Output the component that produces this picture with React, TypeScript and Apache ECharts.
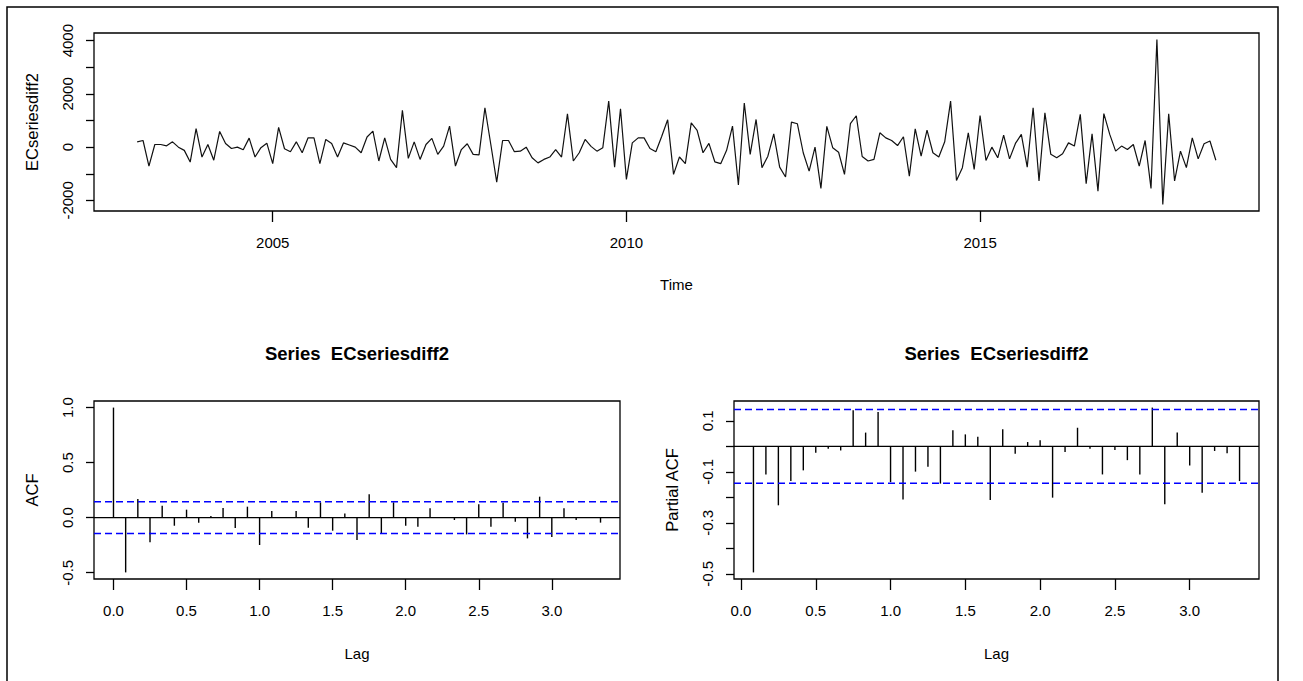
import { useEffect, useRef } from "react";
import * as echarts from "echarts";

// Monthly values of the twice-differenced series; the first observation is February 2003.
const FIRST_YEAR = 2003;
const FIRST_MONTH = 2;
const PERIOD = 12;

const values2003 = [200, 250, -710, 100, 100, 50, 200, 0, -120, -560, 700];
const values2004 = [-370, 100, -490, 590, 140, -50, 0, -100, 340, -370, -20, 150];
const values2005 = [-620, 740, -60, -170, 200, -210, 350, 350, -620, 290, 140, -370];
const values2006 = [160, 80, 0, -210, 380, 600, -520, 350, -460, -770, 1380, -420];
const values2007 = [200, -460, 100, 330, -270, 40, 790, -710, -90, 130, -270, -290];
const values2008 = [1480, 100, -1310, 250, 250, -170, -150, 0, -400, -590, -460, -370];
const values2009 = [-90, -370, 1250, -520, -210, 290, 30, -150, -20, 1730, -750, 1440];
const values2010 = [-1210, 160, 350, 350, -50, -170, 410, 1030, -1020, -370, -620, 910];
const values2011 = [630, -210, 140, -550, -620, -120, 790, -1420, 1660, -270, 1040, -770];
const values2012 = [-340, 500, -750, -1120, 940, 880, -210, -900, 0, -1550, 780, -20];
const values2013 = [-190, -1020, 880, 1180, -350, -520, -460, 540, 350, 250, 60, 390];
const values2014 = [-1090, 690, -340, 640, -210, -370, 200, 1730, -1250, -770, 540, -840];
const values2015 = [1190, -500, 0, -400, 450, -440, 140, 480, -750, 1480, -1270, 1290];
const values2016 = [-270, -400, -250, 160, 40, 1230, -1370, 500, -1650, 1260, 480, -150];
const values2017 = [40, -90, 100, -710, 250, -1550, 4040, -2150, 1250, -1270, -150, -770];
const values2018 = [350, -440, 130, 230, -490];

const yearlyValues = [
  values2003, values2004, values2005, values2006, values2007, values2008,
  values2009, values2010, values2011, values2012, values2013, values2014,
  values2015, values2016, values2017, values2018,
];

// Sample autocorrelations, lags 0..40 months
const acfValues = [
  1.0, -0.497, 0.17, -0.224, 0.109, -0.073, 0.073, -0.045, 0.015, 0.088,
  -0.094, 0.1, -0.248, 0.061, 0.004, 0.061, -0.091, 0.139, -0.118, 0.039,
  -0.203, 0.212, -0.148, 0.139, -0.073, -0.082, 0.085, 0.004, -0.021, -0.152,
  0.121, -0.082, 0.136, -0.036, -0.188, 0.191, -0.176, 0.085, -0.021, 0.003,
  -0.045,
];

// Sample partial autocorrelations, lags 1..40 months
const pacfValues = [
  -0.494, -0.11, -0.231, -0.136, -0.094, -0.025, -0.009, -0.016, 0.142, 0.054,
  0.135, -0.14, -0.208, -0.099, -0.08, -0.146, 0.063, 0.047, 0.038, -0.21,
  0.067, -0.029, 0.017, 0.024, -0.201, -0.022, 0.073, -0.009, -0.11, -0.014,
  -0.054, -0.11, 0.152, -0.227, 0.054, -0.075, -0.182, -0.018, -0.027, -0.136,
];

const timeTicks = [2005, 2010, 2015];
const levelTicks = [-2000, -1000, 0, 1000, 2000, 3000, 4000];
const levelLabels = [-2000, 0, 2000, 4000];
const lagTicks = [0, 0.5, 1, 1.5, 2, 2.5, 3];
const acfTicks = [-0.5, 0, 0.5, 1];
const pacfTicks = [-0.5, -0.4, -0.3, -0.2, -0.1, 0, 0.1];
const pacfLabels = [-0.5, -0.3, -0.1, 0.1];

const SERIES_NAME = "ECseriesdiff2";
const PANEL_TITLE = "Series  " + SERIES_NAME;

const FONT = "'Liberation Sans', Arial, sans-serif";
const BLACK = "#000";
const CI_BLUE = "#0000ff";

// Extend a range by 4% on each side, like R's default axis style.
function padded(lo: number, hi: number): [number, number] {
  const d = (hi - lo) * 0.04;
  return [lo - d, hi + d];
}

function buildOption() {
  const observations = yearlyValues.flat();
  const n = observations.length;
  const timePoints = observations.map((v, i) => [
    FIRST_YEAR + (FIRST_MONTH - 1 + i) / PERIOD,
    v,
  ]);
  const ciBound = 1.96 / Math.sqrt(n);

  const [tMin, tMax] = padded(timePoints[0][0], timePoints[n - 1][0]);
  const [vMin, vMax] = padded(Math.min(...observations), Math.max(...observations));

  const acfPoints = acfValues.map((v, k) => [k / PERIOD, v]);
  const pacfPoints = pacfValues.map((v, k) => [(k + 1) / PERIOD, v]);

  const [acfXMin, acfXMax] = padded(acfPoints[0][0], acfPoints[acfPoints.length - 1][0]);
  const [acfYMin, acfYMax] = padded(
    Math.min(...acfValues, -ciBound),
    Math.max(...acfValues, ciBound)
  );
  const [pacfXMin, pacfXMax] = padded(pacfPoints[0][0], pacfPoints[pacfPoints.length - 1][0]);
  const [pacfYMin, pacfYMax] = padded(
    Math.min(...pacfValues, -ciBound),
    Math.max(...pacfValues, ciBound)
  );

  const tickLine = { color: BLACK, width: 1.3 };
  const labelText = { fontFamily: FONT, fontSize: 15, color: BLACK };

  const xAxis = (
    gridIndex: number,
    min: number,
    max: number,
    ticks: number[],
    fmt: (v: number) => string,
    name: string,
    nameGap: number
  ) => ({
    type: "value",
    gridIndex,
    min,
    max,
    name,
    nameLocation: "middle",
    nameGap,
    nameTextStyle: { fontFamily: FONT, fontSize: 15, color: BLACK },
    axisLine: { show: false, onZero: false },
    splitLine: { show: false },
    axisTick: { show: true, customValues: ticks, length: 11, lineStyle: tickLine },
    axisLabel: { customValues: ticks, formatter: fmt, margin: 24, ...labelText },
  });

  const yAxis = (
    gridIndex: number,
    min: number,
    max: number,
    ticks: number[],
    labels: number[],
    fmt: (v: number) => string,
    name: string
  ) => ({
    type: "value",
    gridIndex,
    min,
    max,
    name,
    nameLocation: "middle",
    nameGap: 54,
    nameRotate: 90,
    nameTextStyle: { fontFamily: FONT, fontSize: 16.5, color: BLACK },
    axisLine: { show: false, onZero: false },
    splitLine: { show: false },
    axisTick: { show: true, customValues: ticks, length: 8, lineStyle: tickLine },
    axisLabel: { customValues: labels, formatter: fmt, rotate: 90, margin: 19, ...labelText },
  });

  const oneDecimal = (v: number) => v.toFixed(1);
  const whole = (v: number) => String(Math.round(v));

  const spikes = (axisIndex: number, points: number[][]) => ({
    type: "custom",
    xAxisIndex: axisIndex,
    yAxisIndex: axisIndex,
    data: points,
    encode: { x: 0, y: 1 },
    z: 2,
    renderItem: (_params: any, api: any) => {
      const x = api.value(0);
      const y = api.value(1);
      const base = api.coord([x, 0]);
      const tip = api.coord([x, y]);
      return {
        type: "line",
        shape: { x1: base[0], y1: base[1], x2: tip[0], y2: tip[1] },
        style: { stroke: BLACK, lineWidth: 1.4 },
      };
    },
  });

  const hline = (
    axisIndex: number,
    x0: number,
    x1: number,
    y: number,
    color: string,
    dashed: boolean,
    z: number
  ) => ({
    type: "line",
    xAxisIndex: axisIndex,
    yAxisIndex: axisIndex,
    data: [
      [x0, y],
      [x1, y],
    ],
    symbol: "none",
    silent: true,
    z,
    lineStyle: { color, width: dashed ? 1.5 : 1.3, type: dashed ? [7, 4] : "solid" },
  });

  const grid = (left: number, top: number, width: number, height: number) => ({
    left,
    top,
    width,
    height,
    show: true,
    borderColor: BLACK,
    borderWidth: 1.3,
    backgroundColor: "transparent",
  });

  const titleStyle = {
    fontFamily: FONT,
    fontWeight: "bold",
    fontSize: 18.5,
    color: BLACK,
  };

  return {
    animation: false,
    backgroundColor: "#fff",
    title: [
      {
        text: PANEL_TITLE,
        left: 357,
        top: 353,
        textAlign: "center",
        textVerticalAlign: "middle",
        padding: 0,
        textStyle: titleStyle,
      },
      {
        text: PANEL_TITLE,
        left: 996.5,
        top: 353,
        textAlign: "center",
        textVerticalAlign: "middle",
        padding: 0,
        textStyle: titleStyle,
      },
    ],
    grid: [grid(94, 33, 1165, 178), grid(94, 401, 526, 178), grid(734, 401, 525, 178)],
    xAxis: [
      xAxis(0, tMin, tMax, timeTicks, whole, "Time", 66),
      xAxis(1, acfXMin, acfXMax, lagTicks, oneDecimal, "Lag", 67),
      xAxis(2, pacfXMin, pacfXMax, lagTicks, oneDecimal, "Lag", 67),
    ],
    yAxis: [
      yAxis(0, vMin, vMax, levelTicks, levelLabels, whole, SERIES_NAME),
      yAxis(1, acfYMin, acfYMax, acfTicks, acfTicks, oneDecimal, "ACF"),
      yAxis(2, pacfYMin, pacfYMax, pacfTicks, pacfLabels, oneDecimal, "Partial ACF"),
    ],
    series: [
      {
        type: "line",
        xAxisIndex: 0,
        yAxisIndex: 0,
        data: timePoints,
        symbol: "none",
        lineStyle: { color: "#111", width: 1.2 },
      },
      spikes(1, acfPoints),
      hline(1, acfXMin, acfXMax, 0, BLACK, false, 3),
      hline(1, acfXMin, acfXMax, ciBound, CI_BLUE, true, 4),
      hline(1, acfXMin, acfXMax, -ciBound, CI_BLUE, true, 4),
      spikes(2, pacfPoints),
      hline(2, pacfXMin, pacfXMax, 0, BLACK, false, 3),
      hline(2, pacfXMin, pacfXMax, ciBound, CI_BLUE, true, 4),
      hline(2, pacfXMin, pacfXMax, -ciBound, CI_BLUE, true, 4),
    ],
    graphic: [
      {
        type: "polyline",
        silent: true,
        shape: {
          points: [
            [7, 681],
            [7, 7],
            [1278, 7],
            [1278, 681],
          ],
        },
        style: { stroke: BLACK, lineWidth: 1.5, fill: null },
      },
    ],
  };
}

export default function App() {
  const ref = useRef<HTMLDivElement>(null);

  useEffect(() => {
    if (!ref.current) return;
    const chart = echarts.init(ref.current, undefined, { renderer: "svg" });
    chart.setOption(buildOption() as any);
    return () => chart.dispose();
  }, []);

  return (
    <div
      ref={ref}
      style={{ position: "absolute", left: 0, top: 0, width: 1303, height: 681 }}
    />
  );
}
